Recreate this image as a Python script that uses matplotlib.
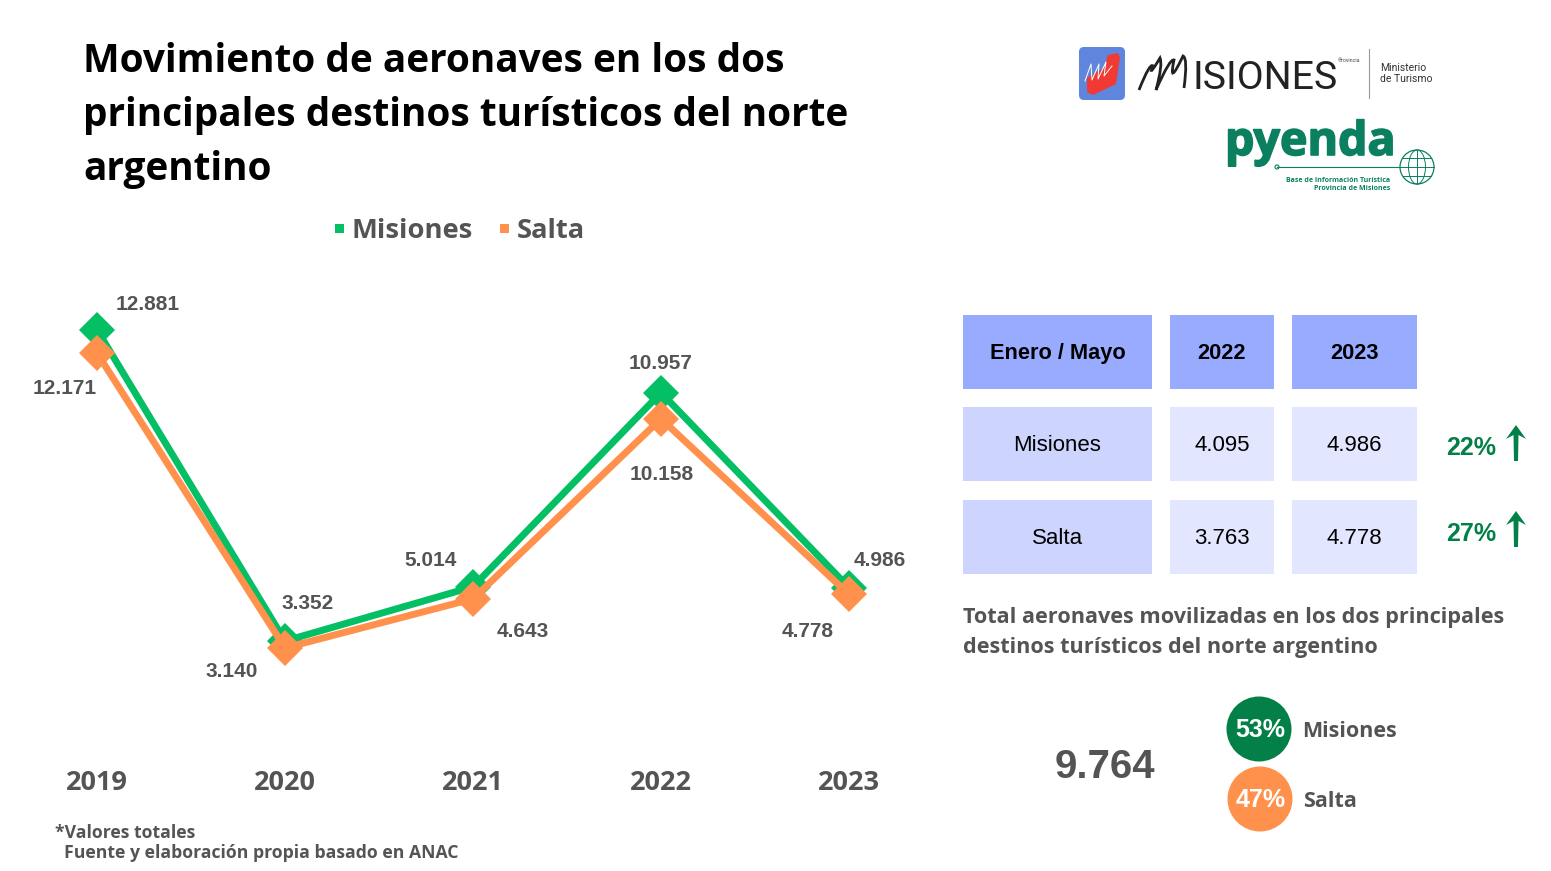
import matplotlib
matplotlib.use('Agg')
import matplotlib.pyplot as plt
import matplotlib.patheffects as pe
from matplotlib.path import Path
from matplotlib.patches import Rectangle, Circle, Ellipse, FancyBboxPatch, Polygon, PathPatch

# datos
anios = ['2019', '2020', '2021', '2022', '2023']
misiones = [12881, 3352, 5014, 10957, 4986]
salta = [12171, 3140, 4643, 10158, 4778]
etiq_misiones = ['12.881', '3.352', '5.014', '10.957', '4.986']
etiq_salta = ['12.171', '3.140', '4.643', '10.158', '4.778']

cabecera = ['Enero / Mayo', '2022', '2023']
fila_misiones = ['Misiones', '4.095', '4.986']
fila_salta = ['Salta', '3.763', '4.778']
variaciones = ['22%', '27%']

total = '9.764'
part_nombres = ['Misiones', 'Salta']
part_valores = ['53%', '47%']

VERDE = '#04BF63'
NARANJA = '#FF914D'
VERDE_OSC = '#038048'
GRIS = '#545454'
W, H = 1551, 871

fig = plt.figure(figsize=(W / 100, H / 100), dpi=100, facecolor='white')

# capa de fondo en pixeles para todo lo que no es el grafico
bg = fig.add_axes([0, 0, 1, 1])
bg.set_xlim(0, W)
bg.set_ylim(H, 0)
bg.axis('off')

# grafico de lineas
ax = fig.add_axes([3 / W, (H - 750.5) / H, 940 / W, 470.3 / H])
ax.patch.set_alpha(0)
x = list(range(len(anios)))
ax.plot(x, misiones, color=VERDE, lw=5, marker='D', ms=18.5, mew=0, solid_joinstyle='miter')
ax.plot(x, salta, color=NARANJA, lw=5, marker='D', ms=18.5, mew=0, solid_joinstyle='miter')
ax.set_xlim(-0.5, 4.5)
ax.set_ylim(0, 14400)
ax.set_yticks([])
ax.set_xticks(x)
ax.set_xticklabels(anios, family='Open Sans', fontweight='bold', fontsize=19.5, color=GRIS)
ax.tick_params(axis='x', length=0, pad=14)
for s in ax.spines.values():
    s.set_visible(False)

off_m = [(51, 25), (23, 38), (-42, 26), (0, 29), (31, 27)]
off_s = [(-32, -36), (-53, -24), (50, -33), (1, -56), (-41, -37)]
for i in x:
    ax.annotate(etiq_misiones[i], (i, misiones[i]), xytext=off_m[i], textcoords='offset pixels',
                ha='center', va='center', family='Liberation Sans', fontweight='bold', fontsize=15, color=GRIS)
    ax.annotate(etiq_salta[i], (i, salta[i]), xytext=off_s[i], textcoords='offset pixels',
                ha='center', va='center', family='Liberation Sans', fontweight='bold', fontsize=15, color=GRIS)

# titulo
for t, yy in zip(['Movimiento de aeronaves en los dos',
                  'principales destinos turísticos del norte',
                  'argentino'], [72, 126, 180]):
    bg.text(83, yy, t, family='Open Sans', fontweight='bold', fontsize=27.9, color='black', va='baseline', ha='left')

# leyenda
bg.add_patch(Rectangle((335, 224), 9, 9, color=VERDE, lw=0))
bg.text(352, 231, 'Misiones', family='Open Sans', fontweight='bold', fontsize=19.7, color=GRIS, va='center')
bg.add_patch(Rectangle((500, 224), 9, 9, color=NARANJA, lw=0))
bg.text(517, 231, 'Salta', family='Open Sans', fontweight='bold', fontsize=19.7, color=GRIS, va='center')

# pie
bg.text(55, 833, '*Valores totales', family='Open Sans', fontweight='bold', fontsize=12.7, color=GRIS, va='center')
bg.text(64, 853, 'Fuente y elaboración propia basado en ANAC', family='Open Sans', fontweight='bold',
        fontsize=12.7, color=GRIS, va='center')

# tabla
col_x = [(963, 1152), (1170, 1274), (1292, 1417)]
fil_y = [(315, 389), (407, 481), (500, 574)]
filas = [cabecera, fila_misiones, fila_salta]
for r, fila in enumerate(filas):
    for c, txt in enumerate(fila):
        x0, x1 = col_x[c]
        y0, y1 = fil_y[r]
        if r == 0:
            col = '#99ABFF'
        elif c == 0:
            col = '#CDD5FF'
        else:
            col = '#E3E6FF'
        bg.add_patch(Rectangle((x0, y0), x1 - x0, y1 - y0, color=col, lw=0))
        bg.text((x0 + x1) / 2, (y0 + y1) / 2 + 1, txt, ha='center', va='center', family='Liberation Sans',
                fontweight='bold' if r == 0 else 'normal', fontsize=15.7 if r == 0 else 16, color='black')

# variaciones con flecha
for txt, ty, ay in zip(variaciones, [448, 534], [425, 511]):
    bg.text(1471, ty, txt, ha='center', va='center', family='Liberation Sans', fontweight='bold',
            fontsize=18, color=VERDE_OSC)
    bg.add_patch(Polygon([(1516, ay), (1526, ay + 14), (1518.5, ay + 10), (1518, ay + 36), (1514, ay + 36),
                          (1513.5, ay + 10), (1506, ay + 14)], color=VERDE_OSC, lw=0))

# texto resumen
bg.text(963, 617, 'Total aeronaves movilizadas en los dos principales', family='Open Sans', fontweight='bold',
        fontsize=15.6, color=GRIS, va='center')
bg.text(963, 647, 'destinos turísticos del norte argentino', family='Open Sans', fontweight='bold',
        fontsize=15.6, color=GRIS, va='center')
bg.text(1105, 767, total, ha='center', va='center', family='Liberation Sans', fontweight='bold',
        fontsize=29, color=GRIS)

# circulos de participacion
circ = [(1259, 729, VERDE_OSC), (1260, 799, NARANJA)]
nom_x = [1302, 1303]
for (cx, cy, col), val, nom, nx in zip(circ, part_valores, part_nombres, nom_x):
    bg.add_patch(Circle((cx, cy), 32.5, color=col, lw=0))
    bg.text(cx + 1, cy + 1, val, ha='center', va='center', family='Liberation Sans', fontweight='bold',
            fontsize=18, color='white')
    bg.text(nx, cy + 2, nom, va='center', family='Open Sans', fontweight='bold', fontsize=15.5, color=GRIS)

# logo misiones
bg.add_patch(FancyBboxPatch((1082, 50), 40, 47, boxstyle='round,pad=3,rounding_size=5', color='#5F86DC', lw=0))
bg.add_patch(Polygon([(1108, 55), (1118, 53), (1120, 58), (1116, 84), (1093, 95), (1087, 92), (1087, 78), (1104, 68)],
                     color='#F03A33', lw=0))
trazo = [(1085, 81), (1091, 64), (1092, 80), (1099, 64), (1098, 79), (1106, 62), (1104, 76), (1112, 66)]
bg.plot(*zip(*trazo), color='white', lw=0.7)

# la M manuscrita va con curvas
pts = [(1139, 90), (1150, 62), (1153, 66), (1148, 78), (1160, 58), (1163, 64), (1156, 90),
       (1170, 58), (1174, 60), (1168, 88), (1183, 56), (1188, 58), (1184, 88)]
cods = [Path.MOVETO] + [Path.CURVE3] * 12
bg.add_patch(PathPatch(Path(pts, cods), fc='none', ec='#222222', lw=2))
bg.text(1192, 89, 'ISIONES', family='Roboto', fontsize=28.3, color='#222222', va='baseline')
bg.text(1338, 61, '®rovincia', family='Roboto', fontsize=3.8, color='#444444', va='center')
bg.plot([1369, 1369], [49, 98], color='#999999', lw=0.8)
bg.text(1380, 68, 'Ministerio', family='Roboto', fontsize=7.5, color='#333333', va='center')
bg.text(1380, 79, 'de Turismo', family='Roboto', fontsize=7.5, color='#333333', va='center')

# logo pyenda
verde_logo = '#0A8060'
bg.text(1225, 155, 'pyenda', family='Open Sans', fontweight='bold', fontsize=33.5, color=verde_logo, va='baseline',
        path_effects=[pe.withStroke(linewidth=1.2, foreground=verde_logo)])
bg.plot([1277, 1400], [167, 167], color=verde_logo, lw=0.8)
bg.add_patch(Circle((1277, 167), 2, fc='white', ec=verde_logo, lw=0.8))
bg.add_patch(Circle((1417, 167), 17, fc='none', ec=verde_logo, lw=0.9))
bg.add_patch(Ellipse((1417, 167), 17, 34, fc='none', ec=verde_logo, lw=0.7))
bg.plot([1417, 1417], [150, 184], color=verde_logo, lw=0.7)
bg.plot([1400, 1434], [167, 167], color=verde_logo, lw=0.7)
bg.plot([1403, 1431], [158, 158], color=verde_logo, lw=0.7)
bg.plot([1403, 1431], [176, 176], color=verde_logo, lw=0.7)
bg.text(1390, 180, 'Base de Información Turística', ha='right', va='center', family='Open Sans', fontweight='bold',
        fontsize=5, color=verde_logo)
bg.text(1390, 188, 'Provincia de Misiones', ha='right', va='center', family='Open Sans', fontweight='bold',
        fontsize=5, color=verde_logo)

fig.savefig('out.png', dpi=100, facecolor='white')
